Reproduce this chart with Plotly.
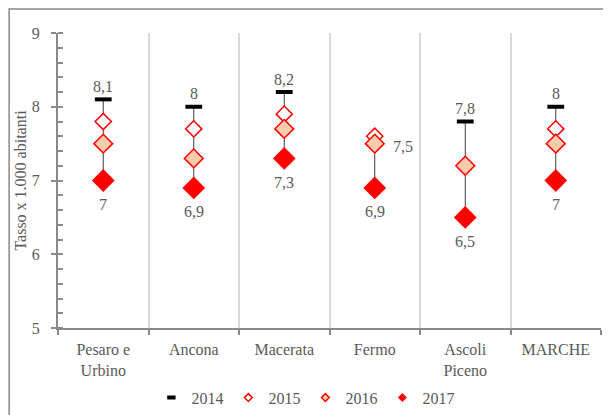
import plotly.graph_objects as go

categories = ["Pesaro e<br>Urbino", "Ancona", "Macerata", "Fermo", "Ascoli<br>Piceno", "MARCHE"]
v2014 = [8.1, 8.0, 8.2, None, 7.8, 8.0]
v2015 = [7.8, 7.7, 7.9, 7.6, 7.2, 7.7]
v2016 = [7.5, 7.3, 7.7, 7.5, 7.2, 7.5]
v2017 = [7.0, 6.9, 7.3, 6.9, 6.5, 7.0]

def fmt(v):
    s = ("%.1f" % v).rstrip("0").rstrip(".")
    return s.replace(".", ",")

FONT = "Liberation Serif"
TXT = "#595959"
AX = "#898989"

# high-low lines
hx, hy = [], []
for i, c in enumerate(categories):
    vals = [s[i] for s in (v2014, v2015, v2016, v2017) if s[i] is not None]
    hx += [c, c, None]
    hy += [max(vals), min(vals), None]

fig = go.Figure()
fig.add_trace(go.Scatter(x=hx, y=hy, mode="lines", line=dict(color="#404040", width=1),
                         showlegend=False, hoverinfo="skip"))
m2015 = dict(symbol="diamond", color="white", line=dict(color="#FF0000", width=1.5))
m2016 = dict(symbol="diamond", color="#F8CBAD", line=dict(color="#FF0000", width=1.5))
m2017 = dict(symbol="diamond", color="#FF0000", line=dict(color="#FF0000", width=0))
m2014 = dict(symbol="line-ew", color="black", line=dict(color="black", width=4))

fig.add_trace(go.Scatter(x=categories, y=v2015, mode="markers", name="2015", showlegend=False,
                         marker=dict(size=12.5, **m2015)))
fig.add_trace(go.Scatter(x=categories, y=v2016, mode="markers", name="2016", showlegend=False,
                         marker=dict(size=14.5, **m2016)))
fig.add_trace(go.Scatter(x=categories, y=v2017, mode="markers", name="2017", showlegend=False,
                         marker=dict(size=17.5, **m2017)))
fig.add_trace(go.Scatter(x=categories, y=v2014, mode="markers", name="2014", showlegend=False,
                         marker=dict(size=12, **m2014)))

# legend entries (small symbols, as in the original)
for name, m, sz in [("2014", m2014, 6), ("2015", m2015, 6), ("2016", m2016, 6), ("2017", m2017, 7)]:
    fig.add_trace(go.Scatter(x=[None], y=[None], mode="markers", name=name,
                             marker=dict(size=sz, **m)))

annotations = []
for c, v in zip(categories, v2014):
    if v is not None:
        annotations.append(dict(x=c, y=v, text=fmt(v), showarrow=False, yshift=13,
                                font=dict(family=FONT, size=16, color=TXT)))
for c, v in zip(categories, v2017):
    annotations.append(dict(x=c, y=v, text=fmt(v), showarrow=False, yshift=-24,
                            font=dict(family=FONT, size=16, color=TXT)))
annotations.append(dict(x=categories[3], y=v2016[3], text=fmt(v2016[3]), showarrow=False,
                        xanchor="left", xshift=16, yshift=-3,
                        font=dict(family=FONT, size=16, color=TXT)))

fig.update_layout(
    width=603, height=407,
    margin=dict(l=50, r=10, t=25, b=87, autoexpand=False),
    paper_bgcolor="white", plot_bgcolor="white",
    font=dict(family=FONT, size=16, color=TXT),
    showlegend=True,
    legend=dict(orientation="h", x=0.172, xanchor="left", y=-0.236, yanchor="middle",
                traceorder="normal", font=dict(family=FONT, size=16, color=TXT),
                itemwidth=30, tracegroupgap=0),
    annotations=annotations,
    shapes=[dict(type="rect", xref="paper", yref="paper",
                 x0=-0.090, x1=1.05, y0=-0.35, y1=1.081,
                 line=dict(color=AX, width=1.5))],
)
fig.update_xaxes(type="category", tickson="boundaries", showgrid=True, gridcolor="#d9d9d9",
                 gridwidth=1.5, showline=True, linecolor=AX, linewidth=2,
                 ticks="outside", ticklen=5, tickcolor=AX, tickwidth=2,
                 ticklabelstandoff=6,
                 tickfont=dict(family=FONT, size=16, color=TXT), range=[-0.5, 5.5])
fig.update_yaxes(range=[5, 9], dtick=1, showgrid=False, zeroline=False,
                 showline=True, linecolor=AX, linewidth=2,
                 ticks="outside", ticklen=5, tickcolor=AX, tickwidth=2,
                 ticklabelstandoff=8,
                 minor=dict(dtick=0.2, ticks="inside", ticklen=5, tickcolor=AX, tickwidth=1.5),
                 tickfont=dict(family=FONT, size=16, color=TXT),
                 title=dict(text="Tasso x 1.000 abitanti", font=dict(family=FONT, size=16, color=TXT),
                            standoff=1))

fig.write_html("out.html")
